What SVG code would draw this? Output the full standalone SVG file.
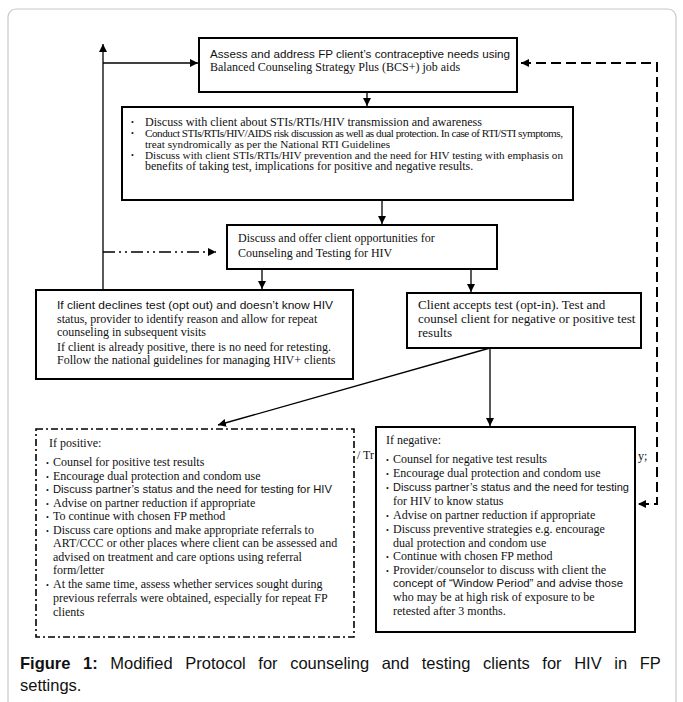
<svg xmlns="http://www.w3.org/2000/svg" width="683" height="702" viewBox="0 0 683 702">
<style>
.box{fill:#fff;stroke:#000;stroke-width:2}
.dd{fill:#fff;stroke:#000;stroke-width:1.6;stroke-dasharray:7 3 2 3}
.c{fill:none;stroke:#000;stroke-width:1.3}
.dash{fill:none;stroke:#000;stroke-width:2;stroke-dasharray:10 5}
.ddd{fill:none;stroke:#000;stroke-width:1.3;stroke-dasharray:12 4 2 4 2 4}
.s{font-family:"Times New Roman","Liberation Serif",serif;font-size:12px;fill:#111}
.m{font-family:"Liberation Sans",Arial,sans-serif;font-size:11.5px;fill:#111}
.cap{font-family:"Liberation Sans",Arial,sans-serif;font-size:16.5px;fill:#111}
.b{font-size:8px}
.lg{font-size:13px}
.sm{font-size:11.2px}
</style>
<defs>
<marker id="ah" markerWidth="8" markerHeight="8" refX="8" refY="4" orient="auto-start-reverse" markerUnits="userSpaceOnUse">
<path d="M0,0 L8,4 L0,8 z" fill="#000"/>
</marker>
</defs>
<rect x="8" y="9" width="668" height="700" rx="8" fill="#fff" stroke="#c8c8c8" stroke-width="1.2"/>

<text class="s" x="357" y="459">/ Tr</text>
<text class="s" x="638" y="460">y;</text>

<g id="connectors">
<path class="c" d="M103,290 L103,44" marker-end="url(#ah)"/>
<path class="c" d="M103,63 L198,63" marker-end="url(#ah)"/>
<path class="c" d="M367,92 L367,106" marker-end="url(#ah)"/>
<path class="c" d="M382,200 L382,224" marker-end="url(#ah)"/>
<path class="ddd" d="M103,252 L216,252" marker-end="url(#ah)"/>
<path class="c" d="M262,269 L262,289" marker-end="url(#ah)"/>
<path class="c" d="M471,269 L471,292" marker-end="url(#ah)"/>
<path class="c" d="M490,348 L490,426" marker-end="url(#ah)"/>
<path class="c" d="M490,348 L218,425" marker-end="url(#ah)"/>
<path class="dash" d="M521,63 L657,63 L657,504 L638,504" marker-start="url(#ah)" marker-end="url(#ah)"/>
</g>

<g id="assess">
<rect class="box" x="199" y="38" width="318" height="54"/>
<text class="m" x="210" y="58" textLength="300" lengthAdjust="spacingAndGlyphs">Assess and address FP client’s contraceptive needs using</text>
<text class="s" x="210" y="71">Balanced Counseling Strategy Plus (BCS+) job aids</text>
</g>

<g id="discuss">
<rect class="box" x="122" y="107" width="451" height="93"/>
<text class="s b" x="131" y="125">•</text>
<text class="s" x="145" y="126" textLength="337" lengthAdjust="spacingAndGlyphs">Discuss with client about STIs/RTIs/HIV transmission and awareness</text>
<text class="s b" x="131" y="136">•</text>
<text class="s sm" x="145" y="137" textLength="418" lengthAdjust="spacing">Conduct STIs/RTIs/HIV/AIDS risk discussion as well as dual protection. In case of RTI/STI symptoms,</text>
<text class="s sm" x="145" y="148">treat syndromically as per the National RTI Guidelines</text>
<text class="s b" x="131" y="158">•</text>
<text class="s sm" x="145" y="159" textLength="418" lengthAdjust="spacing">Discuss with client STIs/RTIs/HIV prevention and the need for HIV testing with emphasis on</text>
<text class="s" x="145" y="170">benefits of taking test, implications for positive and negative results.</text>
</g>

<g id="offer">
<rect class="box" x="227" y="225" width="270" height="44"/>
<text class="s" x="238" y="242">Discuss and offer client opportunities for</text>
<text class="s" x="238" y="257">Counseling and Testing for HIV</text>
</g>

<g id="declines">
<rect class="box" x="36" y="290" width="317" height="89"/>
<text class="m" x="57" y="309" textLength="276" lengthAdjust="spacingAndGlyphs">If client declines test (opt out) and doesn’t know HIV</text>
<text class="s" x="57" y="323">status, provider to identify reason and allow for repeat</text>
<text class="s" x="57" y="336">counseling in subsequent visits</text>
<text class="s" x="57" y="351">If client is already positive, there is no need for retesting.</text>
<text class="s" x="57" y="364">Follow the national guidelines for managing HIV+ clients</text>
</g>

<g id="accepts">
<rect class="box" x="407" y="293" width="234" height="55"/>
<text class="s lg" x="418" y="309">Client accepts test (opt-in). Test and</text>
<text class="s lg" x="418" y="323">counsel client for negative or positive test</text>
<text class="s lg" x="418" y="337">results</text>
</g>

<g id="positive">
<rect class="dd" x="36" y="429" width="318" height="208"/>
<text class="s" x="49" y="447">If positive:</text>
<text class="s" x="46" y="466"><tspan class="b">•</tspan></text><text class="s" x="53" y="466">Counsel for positive test results</text>
<text class="s" x="46" y="480"><tspan class="b">•</tspan></text><text class="s" x="53" y="480">Encourage dual protection and condom use</text>
<text class="s" x="46" y="493"><tspan class="b">•</tspan></text><text class="m" x="53" y="493" textLength="279" lengthAdjust="spacingAndGlyphs">Discuss partner’s status and the need for testing for HIV</text>
<text class="s" x="46" y="507"><tspan class="b">•</tspan></text><text class="s" x="53" y="507">Advise on partner reduction if appropriate</text>
<text class="s" x="46" y="520"><tspan class="b">•</tspan></text><text class="s" x="53" y="520">To continue with chosen FP method</text>
<text class="s" x="46" y="534"><tspan class="b">•</tspan></text><text class="s" x="53" y="534">Discuss care options and make appropriate referrals to</text>
<text class="s" x="53" y="547">ART/CCC or other places where client can be assessed and</text>
<text class="s" x="53" y="561">advised on treatment and care options using referral</text>
<text class="s" x="53" y="574">form/letter</text>
<text class="s" x="46" y="588"><tspan class="b">•</tspan></text><text class="s" x="53" y="588">At the same time, assess whether services sought during</text>
<text class="s" x="53" y="602">previous referrals were obtained, especially for repeat FP</text>
<text class="s" x="53" y="616">clients</text>
</g>

<g id="negative">
<rect class="box" x="376" y="427" width="259" height="205"/>
<text class="s" x="386" y="444">If negative:</text>
<text class="s" x="386" y="463"><tspan class="b">•</tspan></text><text class="s" x="393" y="463">Counsel for negative test results</text>
<text class="s" x="386" y="477"><tspan class="b">•</tspan></text><text class="s" x="393" y="477">Encourage dual protection and condom use</text>
<text class="s" x="386" y="491"><tspan class="b">•</tspan></text><text class="m" x="393" y="491" textLength="236" lengthAdjust="spacingAndGlyphs">Discuss partner’s status and the need for testing</text>
<text class="s" x="393" y="505">for HIV to know status</text>
<text class="s" x="386" y="519"><tspan class="b">•</tspan></text><text class="s" x="393" y="519">Advise on partner reduction if appropriate</text>
<text class="s" x="386" y="533"><tspan class="b">•</tspan></text><text class="s" x="393" y="533">Discuss preventive strategies e.g. encourage</text>
<text class="s" x="393" y="547">dual protection and condom use</text>
<text class="s" x="386" y="560"><tspan class="b">•</tspan></text><text class="s" x="393" y="560">Continue with chosen FP method</text>
<text class="s" x="386" y="574"><tspan class="b">•</tspan></text><text class="s" x="393" y="574">Provider/counselor to discuss with client the</text>
<text class="m" x="393" y="587" textLength="230" lengthAdjust="spacingAndGlyphs">concept of “Window Period” and advise those</text>
<text class="s" x="393" y="601">who may be at high risk of exposure to be</text>
<text class="s" x="393" y="615">retested after 3 months.</text>
</g>

<text class="cap" x="20" y="669" word-spacing="8"><tspan font-weight="bold">Figure 1:</tspan> Modified Protocol for counseling and testing clients for HIV in FP</text>
<text class="cap" x="20" y="691">settings.</text>
</svg>
